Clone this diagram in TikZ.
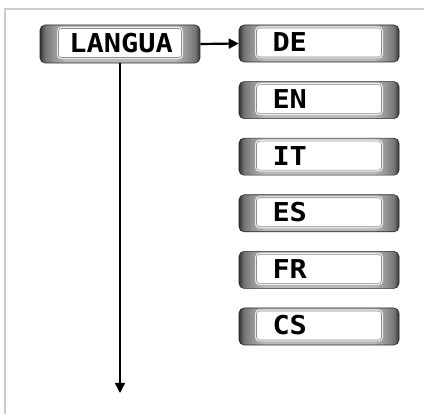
\documentclass[tikz,border=0pt]{standalone}
\usepackage{fontspec}
\newfontfamily\lcdfont[FakeStretch=1.1]{DejaVu Sans Mono}
\usetikzlibrary{arrows.meta,positioning}

\pgfdeclarehorizontalshading{panelshade}{100bp}{color(0bp)=(black!80); color(25bp)=(black!80); color(26.5bp)=(black!55); color(29bp)=(gray!85); color(33bp)=(gray!55); color(67bp)=(gray!55); color(71bp)=(gray!85); color(73.5bp)=(black!55); color(75bp)=(black!80); color(100bp)=(black!80)}

\tikzset{
  panel/.style={draw=black!85, line width=0.6pt, rounded corners=5pt, shading=panelshade,
    minimum width=160pt, minimum height=37pt, inner sep=0pt},
  screen/.style={draw=gray!90, line width=0.6pt, fill=white, rounded corners=3pt,
    preaction={draw=gray!15, line width=3pt},
    minimum height=29pt, text width=93pt, inner xsep=16pt, inner ysep=0pt, align=left,
    font=\lcdfont\bfseries\fontsize{26}{26}\selectfont},
  link/.style={black, line width=1.6pt, -{Triangle[length=10pt,width=10pt]}}
}

\begin{document}
\begin{tikzpicture}[x=1pt,y=-1pt]
  \useasboundingbox (0,0) rectangle (424,414);
  % frame
  \draw[gray!40, line width=1.2pt] (5,414) -- (5,9) -- (424,9);

  % menu entry
  \node[panel, minimum height=38pt] (langua) at (120,44) {};
  \node[screen, text width=101pt, inner xsep=11pt] (langua-lcd) at ([yshift=1pt]langua.center) {LANGUA};

  % choices
  \node[panel] (de) at (319,43.5) {};
  \node[panel, below=19pt of de] (en) {};
  \node[panel, below=19pt of en] (it) {};
  \node[panel, below=19pt of it] (es) {};
  \node[panel, below=19pt of es] (fr) {};
  \node[panel, below=19pt of fr] (cs) {};
  \node[screen] (de-lcd) at ([yshift=1pt]de.center) {DE};
  \node[screen] (en-lcd) at ([yshift=1pt]en.center) {EN};
  \node[screen] (it-lcd) at ([yshift=1pt]it.center) {IT};
  \node[screen] (es-lcd) at ([yshift=1pt]es.center) {ES};
  \node[screen] (fr-lcd) at ([yshift=1pt]fr.center) {FR};
  \node[screen] (cs-lcd) at ([yshift=1pt]cs.center) {CS};

  % connectors
  \coordinate (next) at (120,393);
  \draw[link, line width=2.2pt] (langua.east) -- (de.west);
  \draw[link, line width=1.3pt] (langua.south) -- (next);
\end{tikzpicture}
\end{document}
